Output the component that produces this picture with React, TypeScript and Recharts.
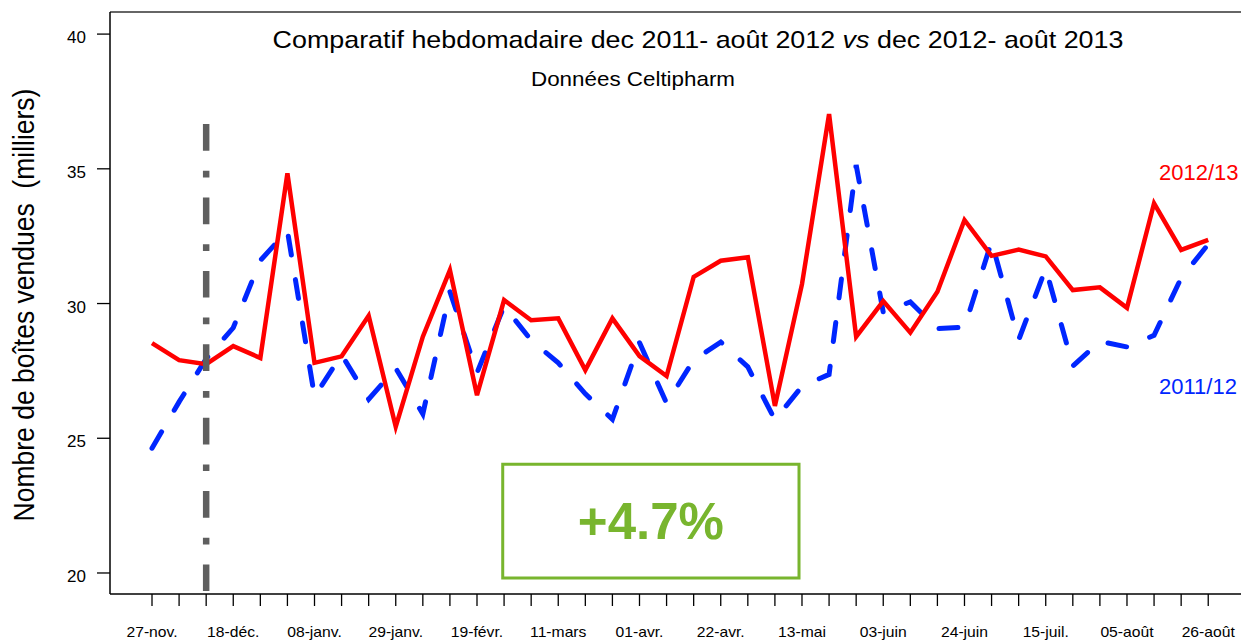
import React from 'react';
import { LineChart, Line, XAxis, YAxis, ReferenceLine, ReferenceArea, Customized } from 'recharts';

const weekLabels = ['27-nov.', '18-déc.', '08-janv.', '29-janv.', '19-févr.', '11-mars', '01-avr.', '22-avr.', '13-mai', '03-juin', '24-juin', '15-juil.', '05-août', '26-août'];

const sales2012_13 = [28.53, 27.9, 27.75, 28.42, 27.98, 34.83, 27.8, 28.04, 29.55, 25.43,
  28.77, 31.24, 26.6, 30.13, 29.38, 29.45, 27.53, 29.45, 28.05, 27.31,
  30.99, 31.59, 31.72, 26.2, 30.72, 37.03, 28.77, 30.09, 28.92, 30.44,
  33.1, 31.77, 32.0, 31.75, 30.5, 30.6, 29.84, 33.72, 31.99, 32.36];

const sales2011_12 = [24.63, 26.35, 27.95, 29.1, 31.6, 32.7, 26.55, 28.1, 26.45, 27.6,
  25.9, 30.44, 27.43, 29.9, 28.64, 27.8, 26.65, 25.7, 28.55, 26.3,
  27.9, 28.57, 27.65, 25.68, 26.93, 27.37, 35.14, 29.68, 30.06, 29.07,
  29.12, 32.3, 28.65, 31.3, 27.68, 28.6, 28.39, 28.82, 30.95, 32.2];

const yTicks = [20, 25, 30, 35, 40];
const weekIndex = sales2012_13.map((_, i) => i);
const changeLabel = '+4.7%';

const data = weekIndex.map((i) => ({ idx: i, s1213: sales2012_13[i], s1112: sales2011_12[i] }));

const FONT = '"Liberation Sans", Arial, sans-serif';
const SX = 1.12;
const RED = '#ff0000';
const BLUE = '#0026ff';
const GREEN = '#78b52e';

const XTick = (props: any) => {
  const { x, y, payload } = props;
  const i = payload.value;
  if (i % 3 !== 0) return <g />;
  return (
    <text transform={`translate(${x},${y + 31}) scale(${SX},1)`} textAnchor="middle" fontSize={14} fontFamily={FONT} fill="#000">
      {weekLabels[i / 3]}
    </text>
  );
};

const YTick = (props: any) => {
  const { x, y, payload } = props;
  return (
    <text x={x - 11} y={y + 9} textAnchor="end" fontSize={17} fontFamily={FONT} fill="#000">
      {payload.value}
    </text>
  );
};

const Annotations = () => (
  <g fontFamily={FONT}>
    <text transform={`translate(698,47.5) scale(${SX},1)`} textAnchor="middle" fontSize={24} fill="#000">
      {'Comparatif hebdomadaire dec 2011- août 2012 '}
      <tspan fontStyle="italic">vs</tspan>
      {' dec 2012- août 2013'}
    </text>
    <text transform={`translate(633,86) scale(${SX},1)`} textAnchor="middle" fontSize={20} fill="#000">
      Données Celtipharm
    </text>
    <text transform={`translate(34,305) scale(${SX},1) rotate(-90)`} textAnchor="middle" fontSize={26.5} fill="#000">
      {'Nombre de boîtes vendues\u00a0 (milliers)'}
    </text>
    <text x={1159} y={179.5} textAnchor="start" fontSize={22} fill={RED}>
      2012/13
    </text>
    <text x={1159} y={394} textAnchor="start" fontSize={22} fill={BLUE}>
      2011/12
    </text>
  </g>
);

export default function App() {
  return (
    <div style={{ position: 'absolute', left: 0, top: 0, width: 1241, height: 641, background: '#fff' }}>
      <LineChart width={1241} height={641} data={data} margin={{ top: 12, right: 0, bottom: 0, left: 0 }}>
        <XAxis
          dataKey="idx"
          type="number"
          domain={[-1.551, 40.21]}
          ticks={weekIndex}
          interval={0}
          allowDataOverflow
          height={47}
          tickSize={12}
          tickMargin={0}
          tick={<XTick />}
          tickLine={{ stroke: '#000', strokeWidth: 1.3 }}
          axisLine={{ stroke: '#000', strokeWidth: 1.5 }}
        />
        <YAxis
          type="number"
          domain={[19.22, 40.82]}
          ticks={yTicks}
          allowDataOverflow
          width={110}
          tickSize={13}
          tickMargin={0}
          tick={<YTick />}
          tickLine={{ stroke: '#000', strokeWidth: 1.3 }}
          axisLine={{ stroke: '#000', strokeWidth: 1.5 }}
        />
        <ReferenceLine y={40.82} stroke="#333" strokeWidth={1.3} ifOverflow="visible" />
        <ReferenceArea
          x1={12.95}
          x2={23.89}
          y1={19.81}
          y2={24.04}
          fill="none"
          fillOpacity={0}
          stroke={GREEN}
          strokeWidth={3}
          ifOverflow="visible"
          label={{ value: changeLabel, position: 'center', fill: GREEN, fontSize: 51, fontWeight: 'bold', fontFamily: FONT }}
        />
        <Line
          type="linear"
          dataKey="s1112"
          stroke={BLUE}
          strokeWidth={5}
          strokeDasharray="19 25"
          strokeLinecap="round"
          dot={false}
          activeDot={false}
          isAnimationActive={false}
        />
        <Line
          type="linear"
          dataKey="s1213"
          stroke={RED}
          strokeWidth={4.5}
          dot={false}
          activeDot={false}
          isAnimationActive={false}
        />
        <ReferenceLine
          segment={[{ x: 2, y: 36.66 }, { x: 2, y: 19.33 }]}
          stroke="#5f5f5f"
          strokeWidth={6.5}
          strokeDasharray="26.7 20 6.7 20"
          ifOverflow="visible"
        />
        <Customized component={Annotations} />
      </LineChart>
    </div>
  );
}
